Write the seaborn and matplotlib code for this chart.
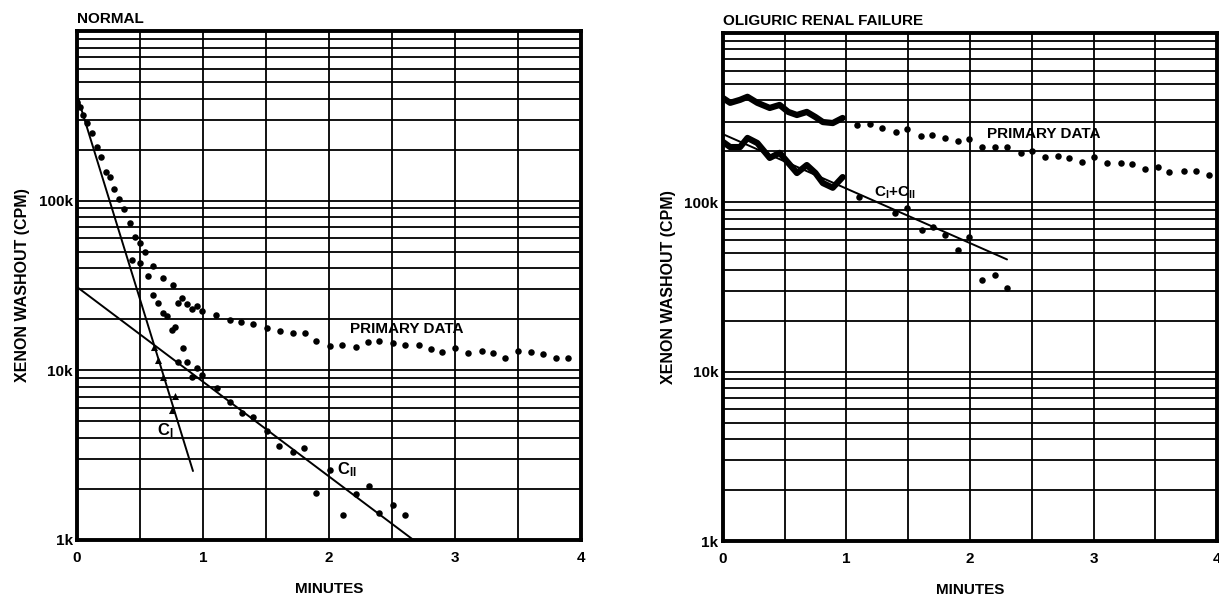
import numpy as np
import pandas as pd
import matplotlib
matplotlib.use("Agg")
import matplotlib.pyplot as plt
import matplotlib.ticker as mticker
import seaborn as sns

# valores en miles de CPM, tiempo en minutos
normal_primary_t = [0.00, 0.02, 0.05, 0.08, 0.12, 0.16, 0.19, 0.23, 0.26, 0.29,
                    0.33, 0.37, 0.42, 0.46, 0.50, 0.54, 0.60, 0.68, 0.76, 0.80,
                    0.83, 0.87, 0.91, 0.95, 0.99, 1.10, 1.21, 1.30, 1.40, 1.51,
                    1.61, 1.71, 1.81, 1.90, 2.01, 2.10, 2.21, 2.31, 2.40, 2.51,
                    2.60, 2.71, 2.81, 2.90, 3.00, 3.10, 3.21, 3.30, 3.40, 3.50,
                    3.60, 3.70, 3.80, 3.90]
normal_primary_v = [380, 356, 319, 287, 250, 207, 181, 147, 138, 117,
                    102, 89, 74, 61, 56, 50, 41, 35, 32, 25,
                    26.7, 24.6, 23, 23.9, 22.3, 21.2, 19.8, 19.3, 18.8, 17.8,
                    17.0, 16.6, 16.6, 14.9, 13.9, 14.1, 13.7, 14.7, 14.9, 14.5,
                    14.1, 14.1, 13.4, 12.8, 13.5, 12.6, 13.0, 12.6, 11.8, 13.0,
                    12.8, 12.5, 11.8, 11.8]

normal_resid_t = [0.44, 0.50, 0.56, 0.60, 0.64, 0.68, 0.71, 0.75, 0.78, 0.80,
                  0.84, 0.87, 0.91, 0.95, 0.99]
normal_resid_v = [45, 43, 36, 28, 25, 21.8, 21, 17.3, 18, 11.2,
                  13.5, 11.2, 9.1, 10.3, 9.4]

normal_c2_t = [1.11, 1.21, 1.31, 1.40, 1.51, 1.60, 1.71, 1.80, 1.90, 2.01,
               2.11, 2.21, 2.32, 2.40, 2.51, 2.60]
normal_c2_v = [7.9, 6.5, 5.6, 5.3, 4.4, 3.58, 3.3, 3.5, 1.9, 2.6,
               1.4, 1.87, 2.08, 1.44, 1.6, 1.4]

normal_c1_t = [0.61, 0.64, 0.68, 0.75, 0.78]
normal_c1_v = [13.7, 11.5, 9.2, 5.8, 7.1]

normal_c1_fit_t = [0.0, 0.92]
normal_c1_fit_v = [419, 2.55]
normal_c2_fit_t = [0.0, 2.67]
normal_c2_fit_v = [31, 1.0]

oli_wave_t = [0.00, 0.06, 0.14, 0.20, 0.28, 0.38, 0.46, 0.53, 0.60, 0.68,
              0.75, 0.81, 0.89, 0.97]
oli_primary_wave_v = [414, 387, 403, 420, 387, 361, 376, 342, 328, 342,
                      319, 298, 294, 315]
oli_sum_wave_v = [228, 212, 212, 240, 224, 183, 196, 171, 149, 166,
                  149, 130, 122, 141]

oli_primary_t = [1.09, 1.19, 1.29, 1.40, 1.49, 1.60, 1.69, 1.80, 1.90, 1.99,
                 2.10, 2.20, 2.30, 2.41, 2.50, 2.61, 2.71, 2.80, 2.91, 3.00,
                 3.11, 3.22, 3.31, 3.42, 3.52, 3.61, 3.73, 3.83, 3.93]
oli_primary_v = [286, 291, 276, 261, 272, 247, 249, 240, 231, 237,
                 212, 212, 212, 196, 201, 185, 188, 183, 173, 185,
                 171, 171, 169, 157, 162, 151, 153, 153, 145]

oli_sum_t = [1.10, 1.39, 1.49, 1.61, 1.70, 1.80, 1.90, 1.99, 2.10, 2.20, 2.30]
oli_sum_v = [108, 86, 93, 69, 72, 64, 52, 62.5, 35, 37, 31]

oli_fit_t = [0.0, 2.30]
oli_fit_v = [253, 46]

sns.set_theme(style="white")
plt.rcParams["font.family"] = ["Liberation Sans", "DejaVu Sans"]
plt.rcParams["font.weight"] = "bold"
plt.rcParams["text.color"] = "black"
plt.rcParams["axes.labelcolor"] = "black"
plt.rcParams["xtick.color"] = "black"
plt.rcParams["ytick.color"] = "black"
plt.rcParams["mathtext.fontset"] = "custom"
plt.rcParams["mathtext.rm"] = "Liberation Sans:bold"
plt.rcParams["mathtext.it"] = "Liberation Sans:bold"
plt.rcParams["mathtext.bf"] = "Liberation Sans:bold"

fig = plt.figure(figsize=(12.19, 5.98), dpi=100)
fig.patch.set_facecolor("white")


def puntos(ax, t, v, marker="o", s=22):
    sns.scatterplot(x=t, y=v, ax=ax, color="black", s=s, marker=marker,
                    linewidth=0, legend=False, zorder=4)


def linea(ax, t, v, lw=1.4):
    sns.lineplot(x=t, y=v, ax=ax, color="black", lw=lw, sort=False,
                 estimator=None, legend=False, zorder=3)


def preparar_ejes(ax, titulo):
    ax.set_yscale("log")
    ax.set_xlim(0, 4)
    ax.set_ylim(1, 1000)
    ax.set_xticks([0, 1, 2, 3, 4])
    ax.set_xticklabels(["0", "1", "2", "3", "4"])
    ax.xaxis.set_minor_locator(mticker.MultipleLocator(0.5))
    ax.set_yticks([1, 10, 100, 1000])
    ax.set_yticklabels(["1k", "10k", "100k", ""])
    ax.yaxis.set_minor_locator(mticker.LogLocator(base=10, subs=np.arange(2, 10)))
    ax.yaxis.set_minor_formatter(mticker.NullFormatter())
    ax.grid(True, which="both", color="black", lw=1.3)
    ax.set_axisbelow(True)
    ax.tick_params(which="both", length=0, labelsize=11, colors="black")
    ax.tick_params(axis="x", pad=8)
    ax.tick_params(axis="y", pad=3)
    for lab in ax.get_xticklabels() + ax.get_yticklabels():
        lab.set_fontweight("bold")
    for sp in ax.spines.values():
        sp.set_visible(True)
        sp.set_color("black")
        sp.set_linewidth(2.8)
    ax.set_xlabel("MINUTES", fontsize=11, fontweight="bold", labelpad=12)
    ax.set_ylabel("XENON WASHOUT (CPM)", fontsize=11.5, fontweight="bold", labelpad=6)
    ax.set_title(titulo, loc="left", fontsize=11, fontweight="bold", pad=6)


# panel izquierdo: normal
ax1 = fig.add_axes([0.0632, 0.097, 0.4135, 0.851])
linea(ax1, normal_c1_fit_t, normal_c1_fit_v)
linea(ax1, normal_c2_fit_t, normal_c2_fit_v)
puntos(ax1, normal_primary_t, normal_primary_v)
puntos(ax1, normal_resid_t, normal_resid_v)
puntos(ax1, normal_c2_t, normal_c2_v)
puntos(ax1, normal_c1_t, normal_c1_v, marker="^", s=26)
preparar_ejes(ax1, "NORMAL")
ax1.text(2.62, 17.5, "PRIMARY DATA", fontsize=11, fontweight="bold",
         ha="center", va="center")
ax1.text(0.70, 4.4, r"C$_{\rm I}$", fontsize=12, fontweight="bold",
         ha="center", va="center")
ax1.text(2.06, 2.6, r"C$_{\rm II}$", fontsize=12, fontweight="bold",
         ha="left", va="center")

# panel derecho: insuficiencia renal oligurica
ax2 = fig.add_axes([0.5929, 0.0953, 0.4056, 0.8495])
linea(ax2, oli_fit_t, oli_fit_v)
linea(ax2, oli_wave_t, oli_primary_wave_v, lw=4.5)
linea(ax2, oli_wave_t, oli_sum_wave_v, lw=4.5)
puntos(ax2, oli_primary_t, oli_primary_v)
puntos(ax2, oli_sum_t, oli_sum_v)
preparar_ejes(ax2, "OLIGURIC RENAL FAILURE")
ax2.text(2.60, 253, "PRIMARY DATA", fontsize=11, fontweight="bold",
         ha="center", va="center")
ax2.text(1.22, 114, r"C$_{\rm I}$+C$_{\rm II}$", fontsize=11, fontweight="bold",
         ha="left", va="center")

fig.savefig("out.png", dpi=100, facecolor="white")
